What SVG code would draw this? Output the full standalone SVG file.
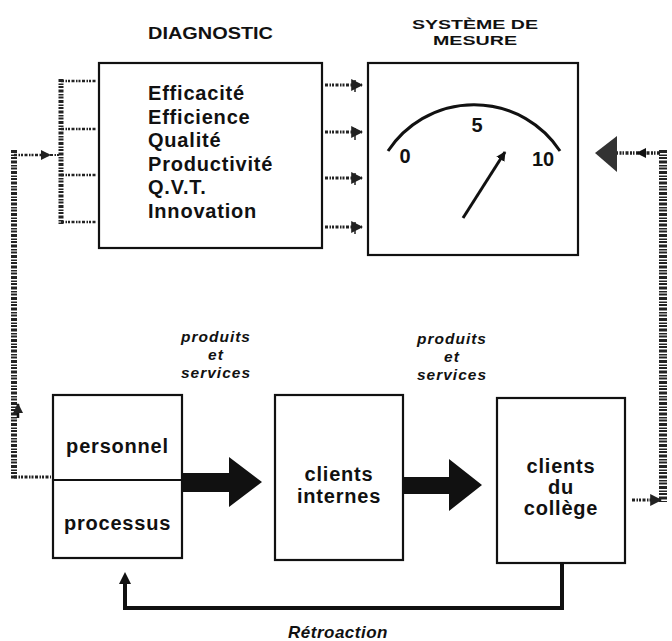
<svg xmlns="http://www.w3.org/2000/svg" width="672" height="641" viewBox="0 0 672 641">
<defs>
<style>
.box{fill:#fff;stroke:#111;stroke-width:2.2}
.t{font-family:"Liberation Sans",Arial,sans-serif;font-weight:bold;fill:#111}
.lbl{font-size:20px;letter-spacing:0.8px}
.it{font-style:italic;font-size:15.5px;letter-spacing:1px}
.stip{fill:none;stroke:#222;stroke-dasharray:3 1.5 1.5 1 2 1.5}
.solid{fill:none;stroke:#111}
</style>
<marker id="ah" viewBox="0 0 10 10" refX="9" refY="5" markerWidth="3.2" markerHeight="3.2" orient="auto" markerUnits="strokeWidth">
<path d="M0,0 L10,5 L0,10 Z" fill="#111"/>
</marker>
<marker id="ahs" viewBox="0 0 10 10" refX="9" refY="5" markerWidth="4" markerHeight="4" orient="auto" markerUnits="strokeWidth">
<path d="M0,0 L10,5 L0,10 Z" fill="#222"/>
</marker>
</defs>
<rect width="672" height="641" fill="#fff"/>

<text class="t" x="210.5" y="39" font-size="17" text-anchor="middle" textLength="125" lengthAdjust="spacingAndGlyphs">DIAGNOSTIC</text>
<text class="t" x="475" y="29" font-size="13.5" text-anchor="middle" textLength="126" lengthAdjust="spacingAndGlyphs">SYSTÈME DE</text>
<text class="t" x="475" y="44.5" font-size="13.5" text-anchor="middle" textLength="84" lengthAdjust="spacingAndGlyphs">MESURE</text>

<g id="diagnostic">
<rect class="box" x="99" y="63" width="223" height="185"/>
<text class="t lbl" x="148" y="100">Efficacité</text>
<text class="t lbl" x="148" y="123.6">Efficience</text>
<text class="t lbl" x="148" y="147.2">Qualité</text>
<text class="t lbl" x="148" y="170.8">Productivité</text>
<text class="t lbl" x="148" y="194.4">Q.V.T.</text>
<text class="t lbl" x="148" y="218">Innovation</text>
</g>

<g id="mesure">
<rect class="box" x="368" y="63" width="210" height="192"/>
<path d="M388,151 A103,103 0 0 1 560,151" fill="none" stroke="#111" stroke-width="3"/>
<text class="t" x="405" y="163" font-size="20" text-anchor="middle">0</text>
<text class="t" x="477" y="132" font-size="20" text-anchor="middle">5</text>
<text class="t" x="543" y="166" font-size="20" text-anchor="middle">10</text>
<line x1="463" y1="218" x2="505" y2="152" stroke="#111" stroke-width="3" marker-end="url(#ah)"/>
</g>

<g id="personnel-processus">
<rect class="box" x="53" y="395" width="129" height="163"/>
<line x1="53" y1="480" x2="182" y2="480" stroke="#111" stroke-width="2"/>
<text class="t lbl" x="117.5" y="453" text-anchor="middle">personnel</text>
<text class="t lbl" x="117.5" y="530" text-anchor="middle">processus</text>
</g>

<g id="clients-internes">
<rect class="box" x="275" y="395" width="128" height="165"/>
<text class="t lbl" x="339" y="481" text-anchor="middle">clients</text>
<text class="t lbl" x="339" y="503" text-anchor="middle">internes</text>
</g>

<g id="clients-college">
<rect class="box" x="497" y="398" width="128" height="165"/>
<text class="t lbl" x="561" y="473" text-anchor="middle">clients</text>
<text class="t lbl" x="561" y="494" text-anchor="middle">du</text>
<text class="t lbl" x="561" y="515" text-anchor="middle">collège</text>
</g>

<g id="labels">
<text class="t it" x="216" y="342" text-anchor="middle">produits</text>
<text class="t it" x="216" y="360" text-anchor="middle">et</text>
<text class="t it" x="216" y="378" text-anchor="middle">services</text>
<text class="t it" x="452" y="344" text-anchor="middle">produits</text>
<text class="t it" x="452" y="362" text-anchor="middle">et</text>
<text class="t it" x="452" y="380" text-anchor="middle">services</text>
<text class="t" x="338" y="638" text-anchor="middle" font-size="17" font-style="italic" letter-spacing="0.5">Rétroaction</text>
</g>

<g id="connectors">
<path d="M182,473 L229,473 L229,457 L262,482 L229,507 L229,492 L182,492 Z" fill="#111"/>
<path d="M403,477 L449,477 L449,459 L482,485 L449,511 L449,494 L403,494 Z" fill="#111"/>
<polyline class="solid" points="562,563 562,608 125,608 125,582" stroke-width="4"/>
<path d="M119,584 L125,572 L131,584 Z" fill="#111"/>
<line class="stip" x1="325" y1="85" x2="362" y2="85" stroke-width="3" marker-end="url(#ahs)"/>
<line class="stip" x1="325" y1="132" x2="362" y2="132" stroke-width="3" marker-end="url(#ahs)"/>
<line class="stip" x1="325" y1="178" x2="362" y2="178" stroke-width="3" marker-end="url(#ahs)"/>
<line class="stip" x1="325" y1="227" x2="362" y2="227" stroke-width="3" marker-end="url(#ahs)"/>
<line x1="355" y1="80" x2="355" y2="92" stroke="#222" stroke-width="1.5"/>
<line x1="355" y1="128" x2="355" y2="140" stroke="#222" stroke-width="1.5"/>
<line x1="355" y1="173" x2="355" y2="185" stroke="#222" stroke-width="1.5"/>
<line x1="355" y1="222" x2="355" y2="234" stroke="#222" stroke-width="1.5"/>
<line class="stip" x1="61" y1="79" x2="61" y2="224" stroke-width="5"/>
<line class="stip" x1="61" y1="81" x2="96" y2="81" stroke-width="2.5"/>
<line class="stip" x1="61" y1="129" x2="96" y2="129" stroke-width="2.5"/>
<line class="stip" x1="61" y1="175" x2="96" y2="175" stroke-width="2.5"/>
<line class="stip" x1="61" y1="222" x2="96" y2="222" stroke-width="2.5"/>
<line class="stip" x1="14" y1="150" x2="14" y2="480" stroke-width="6"/>
<line class="stip" x1="14" y1="477" x2="51" y2="477" stroke-width="3"/>
<line class="stip" x1="14" y1="155" x2="50" y2="155" stroke-width="2.5" marker-end="url(#ahs)"/>
<line class="stip" x1="50" y1="155" x2="60" y2="155" stroke-width="2"/>
<line x1="18" y1="418" x2="18" y2="404" stroke="#111" stroke-width="2.5" marker-end="url(#ahs)"/>
<line class="stip" x1="663" y1="150" x2="663" y2="502" stroke-width="8"/>
<line class="stip" x1="632" y1="500" x2="661" y2="500" stroke-width="3" marker-end="url(#ahs)"/>
<line class="stip" x1="660" y1="153" x2="615" y2="153" stroke-width="3.5"/>
<path d="M646,148 L636,153 L646,158 Z" fill="#111"/>
<path d="M595,153 L617,136 L617,172 Z" fill="#333"/>
</g>
</svg>
